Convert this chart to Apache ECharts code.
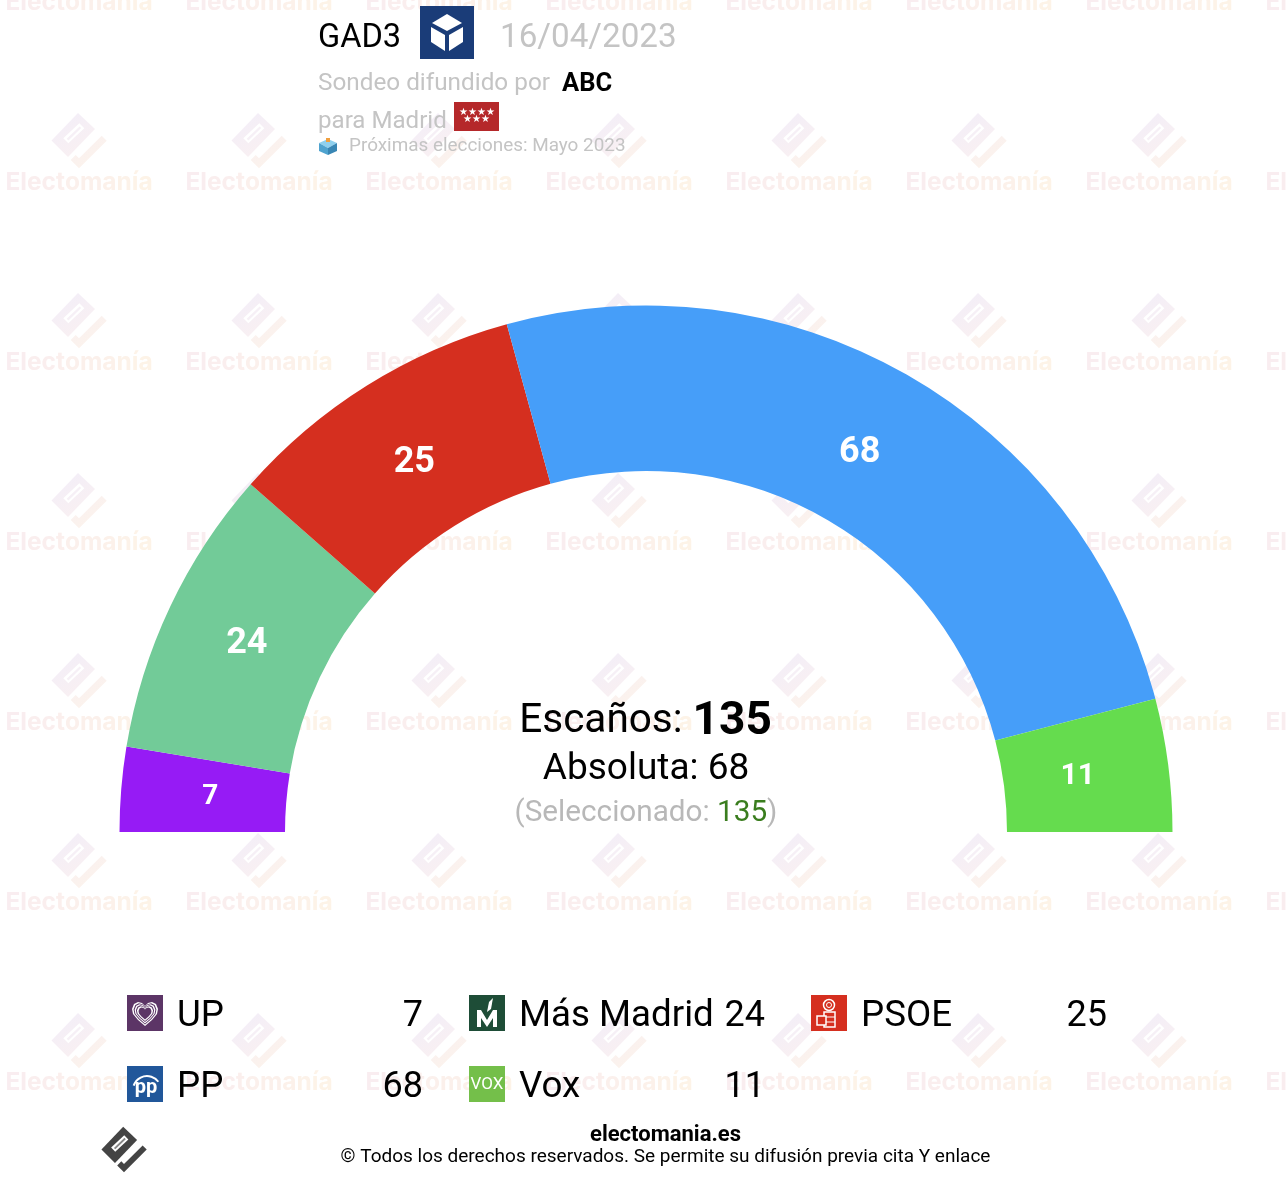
<!DOCTYPE html>
<html><head><meta charset="utf-8">
<style>html,body{margin:0;padding:0;background:#fff}#c{width:1286px;height:1184px}</style>
<script src="https://cdn.jsdelivr.net/npm/echarts@6/dist/echarts.min.js"></script>
</head><body><div id="c"></div>
<script>
const parties = ['UP','Más Madrid','PSOE','PP','Vox'];
const seats = [7,24,25,68,11];
const totalSeats = 135;
const absoluteMajority = 68;
const selectedSeats = 135;
const pollster = 'GAD3';
const pollDate = '16/04/2023';
const publisher = 'ABC';
const region = 'Madrid';
const nextElection = 'Próximas elecciones: Mayo 2023';

const colors = ['#961bf5','#72cb98','#d52f1f','#469ef9','#65dc4e'];
const labelSizes = [28,36,36,36,30];
const labelNudges = [[0,1],[-4,-1],[0,2],[-5,0],[-2,0]];
const iconColors = ['#5c3566','#1e4d37','#d52f1f','#21579a','#74bf4a'];
const F = 'Roboto';
const els = [];
const G = echarts.graphic;
function vgrad(a,b){return new G.LinearGradient(0,0,0.6,1,[{offset:0,color:a},{offset:1,color:b}]);}
function text(x,y,t,size,fill,opt){
  opt=opt||{};
  els.push({type:'text',x:x,y:y+Math.round(size*0.1),z:opt.z==null?10:opt.z,silent:true,style:{text:t,font:(opt.weight||'400')+' '+size+'px '+F,fill:fill,textAlign:opt.align||'left',textVerticalAlign:'middle'}});
}
function poly(pts,fill,z){els.push({type:'polygon',z:z==null?10:z,silent:true,shape:{points:pts},style:{fill:fill}});}
function rect(x,y,w,h,fill,z){els.push({type:'rect',z:z==null?10:z,silent:true,shape:{x:x,y:y,width:w,height:h},style:{fill:fill}});}
function logo(cx,cy,s,c1,c2,z,slit){
  const T=p=>p.map(q=>[cx+q[0]*s,cy+q[1]*s]);
  poly(T([[-1,-27],[16,-11],[-11,17],[-27.5,0.5]]),c1,z);
  poly(T([[0.3,-16.7],[5.3,-11.7],[-10.7,3.3],[-15.7,-1.7]]),'#fff',z);
  poly(T([[0.6,-13.6],[2.2,-12],[-10.6,0.4],[-12.3,-1.3]]),slit,z);
  poly(T([[22.7,-4.3],[27.7,0.7],[0,28.3],[-8.3,20],[-3.3,15],[0,18.3]]),c2,z);
}

// Watermark: word drawn letter by letter so that its tint can drift from rose to peach
const wmWord = 'Electomanía'.split('');
const wmTints = ['#f9edf0','#f9edef','#faeeee','#faeeee','#fbefed','#fbf0ec','#fbf0eb','#fcf1ea','#fcf2e9','#fdf3e8','#fdf3e7'];
const wmRich = {}, wmParts = [];
wmWord.forEach((c,i)=>{wmRich['c'+i]={font:'700 24.5px Inter, '+F,fill:wmTints[i]};wmParts.push('{c'+i+'|'+c+'}');});
const wmX=[79,259,439,619,799,979,1159,1339];
const wmY=[1,181,361,541,721,901,1081];
wmX.forEach(x=>{wmY.forEach(y=>{
  if(y>1) logo(x,y-41,1,vgrad('#f2eef9','#f9f0f2'),vgrad('#f9f0f1','#fcf3ec'),-5,'#f6f0f6');
  els.push({type:'text',x:x,y:y+2,z:-5,silent:true,style:{rich:wmRich,text:wmParts.join(''),textAlign:'center',textVerticalAlign:'middle'}});
});});

// Header
text(318,36,pollster,32.6,'#000');
rect(420,6,54,53,'#1a3c78');
poly([[447,14],[462,23],[447,31],[432,23]],'#fff');
poly([[431,27],[445,35],[445,51],[431,42]],'#fff');
poly([[463,27],[449,35],[449,51],[463,42]],'#fff');
text(500,36,pollDate,33.2,'#c4c4c4');
text(318,82,'Sondeo difundido por',24.3,'#c4c4c4');
text(562,82,publisher,25.5,'#000',{weight:'700'});
text(318,120,'para '+region,24.1,'#c4c4c4');
rect(454,102,45,29,'#b5282a');
text(476.5,112,'★★★★',9.5,'#fff',{align:'center'});
text(476.5,119,'★★★',9.5,'#fff',{align:'center'});
poly([[319,143],[328,139],[337,143],[328,148]],'#8fd0ee');
poly([[319,143],[328,148],[328,155],[319,151]],'#4fa3cf');
poly([[337,143],[328,148],[328,155],[337,151]],'#3886b4');
rect(326,138,4,4,'#f0a040');
text(349,144,nextElection,18.9,'#c4c4c4');

// Center text
els.push({type:'text',x:645.5,y:722,z:10,silent:true,style:{
  rich:{a:{font:'400 40.5px '+F,fill:'#000'},b:{font:'700 46px '+F,fill:'#000'}},
  text:'{a|Escaños: }{b|'+totalSeats+'}',textAlign:'center',textVerticalAlign:'middle'}});
text(646,766,'Absoluta: '+absoluteMajority,37,'#000',{align:'center'});
els.push({type:'text',x:646,y:814,z:10,silent:true,style:{
  rich:{a:{font:'400 29.7px '+F,fill:'#b8b8b8'},g:{font:'400 29.7px '+F,fill:'#3a7d1e'}},
  text:'{a|(Seleccionado: }{g|'+selectedSeats+'}{a|)}',textAlign:'center',textVerticalAlign:'middle'}});

// Legend
const colX=[127,469,811], rowY=[995,1066];
parties.forEach((p,i)=>{
  const x=colX[i%3], y=rowY[Math.floor(i/3)];
  rect(x,y,36,36,iconColors[i]);
  text(x+50,y+18,p,36.7,'#000');
  text(x+296,y+18,String(seats[i]),36,'#000',{align:'right'});
});
// Icon marks
(function(){
  const x=127,y=995,cx=x+18,cy=y+18;
  const heart=[[0,13],[-7,7],[-12,1],[-13,-4],[-11,-9],[-7,-11],[-3,-10],[0,-7],[3,-10],[7,-11],[11,-9],[13,-4],[12,1],[7,7]];
  [[1,'#fff'],[0.88,iconColors[0]],[0.8,'#fff'],[0.7,iconColors[0]],[0.62,'#fff'],[0.5,iconColors[0]]].forEach(r=>{
    poly(heart.map(p=>[cx+p[0]*r[0],cy+p[1]*r[0]]),r[1],11);
  });
  // Más Madrid
  poly([[477,1010],[481,1010],[487,1020],[493,1010],[497,1010],[497,1027],[493,1027],[493,1018],[487,1027],[481,1018],[481,1027],[477,1027]],'#fff');
  poly([[489,1002],[493,998],[491,1009],[487,1012]],'#fff');
  // PSOE
  els.push({type:'circle',z:11,silent:true,shape:{cx:829,cy:1005,r:5.5},style:{fill:'none',stroke:'#fff',lineWidth:1.5}});
  els.push({type:'circle',z:11,silent:true,shape:{cx:829,cy:1005,r:2.5},style:{fill:'none',stroke:'#fff',lineWidth:1}});
  els.push({type:'rect',z:11,silent:true,shape:{x:824,y:1012,width:11,height:15},style:{fill:'none',stroke:'#fff',lineWidth:1.5}});
  els.push({type:'line',z:11,silent:true,shape:{x1:824,y1:1017,x2:835,y2:1017},style:{stroke:'#fff',lineWidth:1}});
  els.push({type:'line',z:11,silent:true,shape:{x1:824,y1:1022,x2:835,y2:1022},style:{stroke:'#fff',lineWidth:1}});
  els.push({type:'rect',z:12,silent:true,shape:{x:817,y:1016,width:9,height:9},style:{fill:iconColors[2],stroke:'#fff',lineWidth:1.5}});
  // PP / Vox
  text(146,1086,'pp',20,'#fff',{align:'center',weight:'700',z:12});
  els.push({type:'arc',z:12,silent:true,shape:{cx:147,cy:1090,r:14,startAngle:Math.PI*1.1,endAngle:Math.PI*1.8},style:{fill:'none',stroke:'#fff',lineWidth:2}});
  text(487,1083,'VOX',17,'#fff',{align:'center',z:12});
})();

// Footer
logo(124,1149,0.82,'#444','#444',10,'#888');
text(665.5,1133,'electomania.es',22,'#000',{align:'center',weight:'700'});
text(665.5,1155,'© Todos los derechos reservados. Se permite su difusión previa cita Y enlace',19,'#000',{align:'center'});

// Pie: coloured band, and a transparent band that carries the value labels
const hidden = {name:'',value:totalSeats,itemStyle:{color:'rgba(0,0,0,0)'},label:{show:false},labelLine:{show:false}};
const bandData = parties.map((p,i)=>({name:p,value:seats[i],itemStyle:{color:colors[i]}})).concat([hidden]);
const labelData = parties.map((p,i)=>({name:p,value:seats[i],itemStyle:{color:'rgba(0,0,0,0)'},label:{fontSize:labelSizes[i],offset:labelNudges[i]}})).concat([hidden]);

const chart = echarts.init(document.getElementById('c'),null,{renderer:'canvas',width:1286,height:1184});
chart.setOption({
  animation:false,
  backgroundColor:'#fff',
  graphic:{elements:els},
  series:[
    {type:'pie',center:[646,832],radius:[361,526.5],startAngle:180,clockwise:true,silent:true,z:2,data:bandData,label:{show:false},labelLine:{show:false}},
    {type:'pie',center:[646,832],radius:[342,526.5],startAngle:180,clockwise:true,silent:true,z:3,data:labelData,
     label:{show:true,position:'inside',formatter:'{c}',color:'#fff',fontFamily:F,fontWeight:700},labelLine:{show:false}}
  ]
});
</script></body></html>
